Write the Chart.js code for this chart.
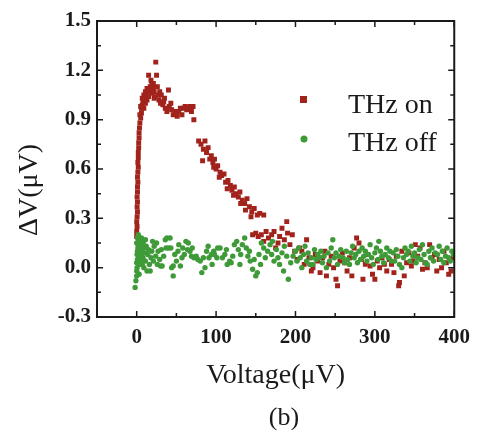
<!DOCTYPE html>
<html>
<head>
<meta charset="utf-8">
<script src="https://cdn.jsdelivr.net/npm/chart.js@4/dist/chart.umd.min.js"></script>
<style>
  html, body { margin: 0; padding: 0; background: #fff; }
  #wrap { width: 478px; height: 430px; }
</style>
</head>
<body>
<div id="wrap"><canvas id="dvChart" width="478" height="430"></canvas></div>
<script>
// Tick values and labels
const xTicks = [0, 100, 200, 300, 400];
const xMinorTicks = [-50, 50, 150, 250, 350];
const yTicks = [-0.3, 0.0, 0.3, 0.6, 0.9, 1.2, 1.5];
const yMinorTicks = [-0.15, 0.15, 0.45, 0.75, 1.05, 1.35];

const seriesLabels = ['THz on', 'THz off'];
const xTitle = 'Voltage(\u03bcV)';
const yTitle = '\u0394V(\u03bcV)';
const panelLabel = '(b)';

// THz on, [voltage, dV]
const thzOn = [
  [0,0.19],[0,0.22],[0.5,0.25],[0,0.28],[0.5,0.31],[1,0.34],[0.5,0.37],[1,0.40],[0.5,0.43],[1,0.46],
  [1,0.49],[1.5,0.52],[1,0.55],[1.5,0.58],[2,0.61],[1.5,0.64],[2,0.67],[2,0.70],[2.5,0.73],[2.5,0.76],
  [3,0.79],[3,0.82],[3.5,0.85],[4,0.88],[5,0.91],[6,0.94],[6,0.97],[7,0.99],[8,1.01],[9,0.97],
  [4,0.93],[5,0.98],[7,1.03],[9,1.05],[11,1.07],[13,1.09],[19,1.12],[22,1.03],[29,1.07],[34,1.01],
  [10,1.03],[11,1.0],[12,1.06],[13,1.02],[14,1.07],[15,1.04],[15,1.17],[16,1.08],[17,1.1],[18,1.14],
  [19,1.06],[20,1.09],[21,1.12],[22,1.07],[23,1.04],[24,1.25],[25,1.17],[26,1.1],[27,1.05],[28,1.02],
  [30,1.0],[31,1.05],[33,0.99],[35,1.03],[36,0.97],[38,0.95],[40,1.08],[41,0.98],[43,1.0],[44,0.96],
  [46,0.93],[48,0.95],[49,0.94],[51,0.92],[53,0.95],[55,0.97],[57,0.93],[59,0.97],[61,0.98],[63,0.96],
  [65,0.97],[67,0.98],[69,0.95],[71,0.98],[72,0.9],
  [78,0.77],[81,0.75],[84,0.72],[86,0.77],[88,0.7],[90,0.73],[92,0.66],[94,0.68],[96,0.64],[98,0.66],
  [100,0.6],[102,0.62],[105,0.58],[107,0.56],[110,0.57],[112,0.52],[115,0.53],[118,0.5],[120,0.47],[123,0.49],
  [125,0.45],[128,0.43],[130,0.46],[133,0.41],[136,0.39],[139,0.42],[142,0.37],[145,0.34],[148,0.36],[152,0.32],
  [155,0.33],[160,0.32],
  [83,0.65],[97,0.61],[104,0.55],[114,0.48],[122,0.44],[131,0.39],[137,0.35],[144,0.31],
  [146,0.2],[150,0.21],[153,0.19],[157,0.2],[160,0.16],[163,0.22],[166,0.18],[170,0.2],[173,0.22],[175,0.12],
  [178,0.15],[180,0.19],[183,0.24],[186,0.17],[189,0.28],[190,0.21],[193,0.14],[196,0.2],[199,0.1],
  [202,0.05],[205,0.12],[208,0.1],[211,0.02],[214,0.17],[217,0.06],[220,-0.02],[222,0.0],[225,0.08],[228,0.04],
  [231,-0.03],[234,0.06],[237,0.1],[239,-0.05],[242,0.02],[245,0.07],[248,0.0],[251,-0.07],[253,-0.11],[256,0.04],
  [259,0.09],[262,0.03],[265,-0.02],[268,0.06],[271,-0.05],[274,0.12],[277,0.18],[280,0.15],[283,0.05],[285,-0.07],
  [288,0.02],[291,0.08],[294,0.01],[297,-0.04],[300,-0.07],[303,0.04],[306,0.0],[309,0.06],[312,0.02],[315,-0.02],
  [318,0.05],[321,0.02],[324,-0.03],[327,0.07],[330,-0.11],[331,-0.09],[334,0.1],[337,-0.05],[340,0.03],[343,0.09],
  [346,0.01],[348,0.04],[351,0.14],[354,0.07],[357,0.12],[360,-0.01],[363,0.03],[366,0.0],[369,0.14],[372,0.06],
  [375,0.08],[378,-0.02],[381,0.05],[384,0.0],[387,0.1],[390,0.03],[393,-0.04],[396,-0.02],[399,0.06]
];

// THz off
const thzOff = [
  [-2,-0.12],[-1,-0.08],[0,-0.05],[0,-0.02],[0.5,0.0],[0,0.03],[1,0.05],[0.5,0.08],[1,0.1],[1.5,0.12],
  [0,0.15],[1,0.18],[2,0.2],[2,0.14],[3,0.06],[3,0.17],[4,0.1],[4,0.02],[5,0.13],[5,0.08],
  [6,0.18],[6,0.04],[7,0.11],[8,0.15],[8,0.06],[9,0.0],[10,0.09],[11,0.04],[12,0.13],[13,-0.02],
  [14,0.08],[15,0.11],[16,0.02],[17,-0.02],[18,0.06],[19,0.1],[21,0.04],[22,0.13],[24,0.07],[25,0.15],
  [27,0.1],[29,0.05],[30,0.01],[32,0.01],[34,0.07],[36,0.17],[37,0.12],[38,0.18],[40,0.12],[42,0.18],
  [43,0.12],[44,0.0],[46,-0.05],[46,0.01],[48,0.08],[50,0.04],[52,0.1],[55,0.01],[57,0.06],[58,0.12],
  [60,0.08],[62,0.16],[64,0.11],[65,0.15],[67,0.1],[69,0.07],[72,0.06],[75,0.07],[77,0.05],[80,0.04],
  [82,-0.03],[84,0.06],[86,0.0],[88,0.1],[91,0.06],[94,0.08],[97,0.1],[98,0.08],[101,0.06],[102,0.12],
  [105,0.12],[108,0.06],[111,0.08],[114,0.02],[117,0.04],[119,0.03],[121,0.07],[123,0.14],[126,0.16],[128,0.11],
  [131,0.08],[133,0.14],[136,0.18],[138,0.12],[140,0.07],[142,0.1],[143,0.04],[146,-0.01],[148,0.05],[150,-0.05],
  [152,-0.03],[154,0.08],[157,0.15],[160,0.12],[162,0.06],[165,0.1],[168,0.14],[170,0.08],[173,0.04],[176,0.11],
  [178,0.06],[180,0.02],[183,0.09],[186,0.13],[189,0.07],[191,-0.07],[194,0.03],[197,0.07],[200,0.1],[202,0.04],
  [2,0.09],[3,-0.04],[5,0.16],[7,0.02],[9,0.12],[11,0.17],[20,0.16],[26,0.02],[31,0.11],[53,0.14],
  [70,0.12],[90,0.13],[95,0.02],[113,0.11],[130,0.02],[156,0.02],[171,0.16],[185,-0.02],
  [204,0.12],[206,0.06],[208,0.0],[210,0.08],[212,0.13],[214,0.04],[216,0.09],[218,0.02],[220,0.06],[222,0.02],
  [224,0.11],[226,0.05],[228,0.08],[230,0.06],[232,0.1],[234,0.03],[236,0.07],[239,0.0],[241,0.09],[243,0.04],
  [245,0.12],[247,0.17],[249,0.06],[251,0.09],[253,0.02],[255,0.07],[257,0.11],[260,0.06],[262,0.03],[264,0.1],
  [266,0.05],[268,0.02],[270,0.09],[272,0.13],[274,0.06],[276,0.08],[278,0.03],[280,0.1],[282,0.05],[284,0.12],
  [286,0.07],[288,0.1],[290,0.04],[292,0.08],[294,0.14],[296,0.06],[298,0.02],[300,0.09],[302,0.12],[304,0.05],
  [305,0.16],[307,0.1],[309,0.07],[311,0.03],[313,0.08],[315,0.12],[317,0.06],[319,0.1],[321,0.04],[323,0.09],
  [325,0.04],[327,0.11],[329,0.07],[331,0.02],[334,0.0],[336,0.06],[338,0.12],[340,0.08],[342,0.1],[344,0.04],
  [346,0.13],[348,0.07],[350,0.09],[352,0.03],[354,0.06],[356,0.11],[358,0.05],[360,0.14],[362,0.08],[364,0.03],
  [366,0.02],[368,0.1],[370,0.06],[372,0.12],[374,0.04],[376,0.09],[379,0.08],[381,0.13],[383,0.05],[385,0.1],
  [387,0.03],[389,0.07],[391,0.12],[393,0.06],[395,0.04],[397,0.1],[399,0.08]
];

const RED = '#a1231c';
const GREEN = '#3f9a38';
const INK = '#1a1a1a';
const SERIF = '"Liberation Serif", "Times New Roman", serif';

function toPoints(pairs) {
    return pairs.map(p => ({ x: p[0], y: p[1] }));
}

// frame, inward ticks on all four sides, titles and the inside legend
const framePlugin = {
    id: 'framePlugin',
    afterDraw(chart) {
        const { ctx, chartArea: a, scales } = chart;
        const xs = scales.x, ys = scales.y;
        ctx.save();
        ctx.strokeStyle = INK;
        ctx.lineWidth = 2;
        ctx.strokeRect(a.left, a.top, a.right - a.left, a.bottom - a.top);

        ctx.lineWidth = 1.5;
        ctx.beginPath();
        const tickX = (vals, len) => vals.forEach(v => {
            const px = xs.getPixelForValue(v);
            ctx.moveTo(px, a.bottom); ctx.lineTo(px, a.bottom - len);
            ctx.moveTo(px, a.top); ctx.lineTo(px, a.top + len);
        });
        const tickY = (vals, len) => vals.forEach(v => {
            const py = ys.getPixelForValue(v);
            ctx.moveTo(a.left, py); ctx.lineTo(a.left + len, py);
            ctx.moveTo(a.right, py); ctx.lineTo(a.right - len, py);
        });
        tickX(xTicks, 6); tickX(xMinorTicks, 4);
        tickY(yTicks, 6); tickY(yMinorTicks, 4);
        ctx.stroke();

        ctx.fillStyle = INK;
        ctx.font = '28px ' + SERIF;
        ctx.textAlign = 'center';
        ctx.textBaseline = 'middle';
        ctx.fillText(xTitle, (a.left + a.right) / 2, 376);
        ctx.font = '26px ' + SERIF;
        ctx.fillText(panelLabel, 284, 418);

        ctx.save();
        ctx.translate(30, 190);
        ctx.rotate(-Math.PI / 2);
        ctx.font = '28px ' + SERIF;
        ctx.fillText(yTitle, 0, 0);
        ctx.restore();

        // legend
        const ds = chart.data.datasets;
        ctx.textAlign = 'left';
        ctx.textBaseline = 'alphabetic';
        ctx.font = '28px ' + SERIF;
        ctx.fillStyle = ds[0].backgroundColor;
        ctx.fillRect(300, 96, 7, 7);
        ctx.fillStyle = ds[1].backgroundColor;
        ctx.beginPath();
        ctx.arc(304, 139, 3.5, 0, Math.PI * 2);
        ctx.fill();
        ctx.fillStyle = INK;
        ctx.fillText(ds[0].label, 348, 113);
        ctx.fillText(ds[1].label, 348, 151);
        ctx.restore();
    }
};

const ctx = document.getElementById('dvChart').getContext('2d');
const chart = new Chart(ctx, {
    type: 'scatter',
    data: {
        datasets: [{
            label: seriesLabels[0],
            data: toPoints(thzOn),
            pointStyle: 'rect',
            pointRadius: 3.5,
            backgroundColor: RED,
            borderColor: RED,
            borderWidth: 0,
            order: 2
        }, {
            label: seriesLabels[1],
            data: toPoints(thzOff),
            pointStyle: 'circle',
            pointRadius: 2.7,
            backgroundColor: GREEN,
            borderColor: GREEN,
            borderWidth: 0,
            order: 1
        }]
    },
    options: {
        responsive: false,
        animation: false,
        layout: { padding: { top: 21, right: 18, left: 0, bottom: 0 } },
        plugins: { legend: { display: false }, tooltip: { enabled: false } },
        scales: {
            x: {
                type: 'linear',
                min: -50, max: 400,
                afterBuildTicks: s => { s.ticks = xTicks.map(v => ({ value: v })); },
                afterFit: s => { s.height = 113; },
                grid: { display: false, drawTicks: false },
                border: { display: false },
                ticks: {
                    padding: 8,
                    color: INK,
                    font: { family: SERIF, size: 21, weight: 'bold' },
                    callback: v => String(v)
                }
            },
            y: {
                type: 'linear',
                min: -0.3, max: 1.5,
                afterBuildTicks: s => { s.ticks = yTicks.map(v => ({ value: v })); },
                afterFit: s => { s.width = 97; },
                grid: { display: false, drawTicks: false },
                border: { display: false },
                ticks: {
                    padding: 6,
                    color: INK,
                    font: { family: SERIF, size: 21, weight: 'bold' },
                    callback: v => v.toFixed(1)
                }
            }
        }
    },
    plugins: [framePlugin]
});
</script>
</body>
</html>
